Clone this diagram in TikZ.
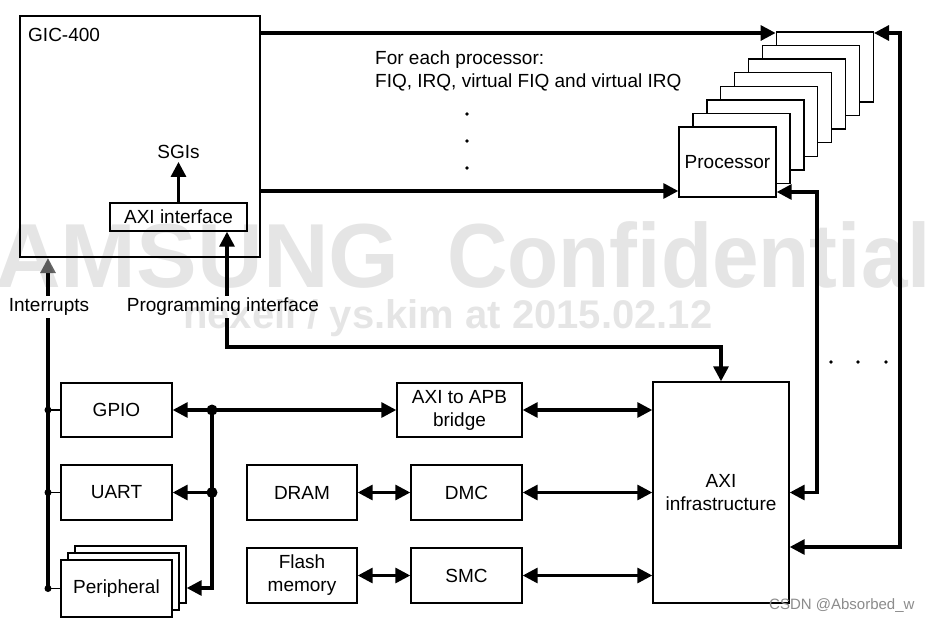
\documentclass[tikz,border=0pt]{standalone}
\usepackage{fontspec}
\setmainfont{Liberation Sans}
\usetikzlibrary{arrows.meta}
\begin{document}
\begin{tikzpicture}[x=1pt,y=-1pt,
  >={Triangle[length=15pt,width=15pt]},
  lbl/.style={font=\fontsize{19}{23}\selectfont,inner sep=0pt},
  box/.style={draw,line width=1.4pt,fill=white,inner sep=0pt,align=center,font=\fontsize{19}{23}\selectfont},
  conn/.style={line width=3.2pt},
  thin/.style={line width=1.4pt},
  wm/.style={text=black,text opacity=0.1,font=\bfseries,inner sep=0pt}
]
\fill[white] (0,0) rectangle (930,622);
\useasboundingbox (0,0) rectangle (930,622);

% GIC-400
\node[box,line width=2.2pt,minimum width=240pt,minimum height=241pt] (gic) at (140,136.5) {};
\node[lbl,anchor=west] (gicl) at (28,35) {GIC-400};
\node[box,minimum width=137pt,minimum height=28pt] (axi) at (178.5,217) {AXI interface};
\node[lbl,inner sep=3pt] (sgi) at (178.5,152) {SGIs};
\draw[conn,->] (axi.north) -- (sgi.south);

% processors
\foreach \i in {7,6,...,1}{
  \node[box,minimum width=97pt,minimum height=70pt] (p\i) at ({727.5+13.9*\i},{162-13.6*\i}) {};
}
\node[box,minimum width=97pt,minimum height=70pt] (p0) at (727.5,162) {Processor};

\node[lbl,anchor=base west] (fe1) at (375,64) {For each processor:};
\node[lbl,anchor=base west] (fe2) at (375,87) {FIQ, IRQ, virtual FIQ and virtual IRQ};
\foreach \y in {114,141,168} \fill (467,\y) circle (1.9pt);
\foreach \x in {831,858,886} \fill (\x,362) circle (1.9pt);

% lower blocks
\node[box,minimum width=111pt,minimum height=54pt] (gpio) at (116.5,410) {GPIO};
\node[box,minimum width=111pt,minimum height=55pt] (uart) at (116.5,492.5) {UART};
\node[box,minimum width=111pt,minimum height=57pt] (per2) at (130.5,574.5) {};
\node[box,minimum width=111pt,minimum height=57pt] (per1) at (123.5,581.5) {};
\node[box,minimum width=111pt,minimum height=57pt] (per0) at (116.5,588.5) {Peripheral};
\node[box,minimum width=125pt,minimum height=54pt] (bridge) at (459.5,410) {AXI to APB\\bridge};
\node[box,minimum width=110pt,minimum height=55pt] (dram) at (302,492.5) {DRAM};
\node[box,minimum width=111pt,minimum height=55pt] (dmc) at (466.5,492.5) {DMC};
\node[box,minimum width=110pt,minimum height=55pt] (flash) at (302,575.5) {Flash\\memory};
\node[box,minimum width=111pt,minimum height=55pt] (smc) at (466.5,575.5) {SMC};
\node[box,minimum width=136pt,minimum height=221pt] (infra) at (721,492.5) {AXI\\infrastructure};

% coordinates
\coordinate (ytop) at (0,33);
\coordinate (ymid) at (0,191);
\coordinate (yp) at (0,192);
\coordinate (xr) at (900,0);
\coordinate (xr2) at (817,0);
\coordinate (y547) at (0,547);
\coordinate (y492) at (0,492.5);
\coordinate (pg) at (227,347);
\coordinate (ib) at (48,0);
\coordinate (i1) at (48,410);
\coordinate (i2) at (48,492.5);
\coordinate (i3) at (48,588.5);
\coordinate (r1) at (212,410);
\coordinate (r2) at (212,492.5);
\coordinate (r3) at (212,588);

% connectors top
\draw[conn,->] (gic.east |- ytop) -- (p7.west |- ytop);
\draw[conn,->] (gic.east |- ymid) -- (p0.west |- ymid);
\draw[conn,<->] (p7.east |- ytop) -- (xr |- ytop) -- (xr |- y547) -- (infra.east |- y547);
\draw[conn,<->] (p0.east |- yp) -- (xr2 |- yp) -- (xr2 |- y492) -- (infra.east |- y492);
\draw[conn,<->] (axi.south -| pg) -- (pg) -- (pg -| infra.north) -- (infra.north);

% interrupts
\draw[conn,-{Triangle[length=15pt,width=15pt,color=black!60]}] (i3) -- (gic.south -| ib);
\draw[thin] (i1) -- (gpio.west);
\draw[thin] (i2) -- (uart.west);
\draw[thin] (i3) -- (per0.west);
\foreach \c in {i1,i2,i3} \fill (\c) circle (3.5pt);

% right bus
\draw[conn,->] (r1) -- (gpio.east);
\draw[conn,->] (r2) -- (uart.east);
\draw[conn,->] (r1) -- (r3) -- (per2.east |- r3);
\draw[conn,->] (r1) -- (bridge.west);
\foreach \c in {r1,r2} \fill (\c) circle (5.5pt);
\draw[conn,<->] (bridge.east) -- (infra.west |- bridge.east);
\draw[conn,<->] (dram.east) -- (dmc.west);
\draw[conn,<->] (dmc.east) -- (infra.west |- dmc.east);
\draw[conn,<->] (flash.east) -- (smc.west);
\draw[conn,<->] (smc.east) -- (infra.west |- smc.east);

% labels breaking lines
\node[lbl,fill=white,inner sep=2pt] (intl) at (49,307) {Interrupts};
\node[lbl,fill=white,inner sep=2pt] (pgl) at (223,307) {Programming interface};

% watermarks
\node[wm,anchor=base west,font=\bfseries\fontsize{91}{91}\selectfont] (wm1) at (-5,287) {AMSUNG};
\node[wm,anchor=base west,font=\bfseries\fontsize{91}{91}\selectfont] (wm2) at (447,287) {\scalebox{0.92}[1]{Confidential}};
\node[wm,anchor=base west,font=\bfseries\fontsize{40}{40}\selectfont] (wm3) at (183,328) {nexell / ys.kim at 2015.02.12};
\node[anchor=west,inner sep=0pt,text=black!45,font=\fontsize{15}{15}\selectfont] (csdn) at (769,606) {CSDN @Absorbed\_w};
\end{tikzpicture}
\end{document}
